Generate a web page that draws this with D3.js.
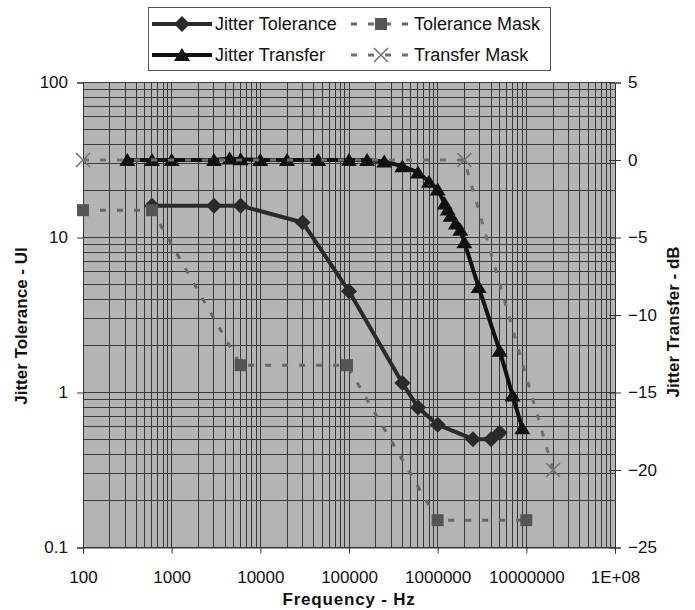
<!DOCTYPE html>
<html>
<head>
<meta charset="utf-8">
<script src="https://cdn.jsdelivr.net/npm/d3@7"></script>
<style>
body { margin: 0; background: #fff; }
svg text { font-family: "Liberation Sans", Arial, sans-serif; fill: #111; }
</style>
</head>
<body>
<svg width="695" height="610"></svg>
<script>
// measured jitter tolerance (UI) vs frequency
const tolFreq = [600, 3000, 6000, 30000, 100000, 400000, 600000, 1000000, 2500000, 4000000, 5000000];
const tolUI = [16, 16, 16, 12.5, 4.5, 1.15, 0.8, 0.62, 0.5, 0.5, 0.55];

// tolerance mask (UI)
const maskTolFreq = [100, 600, 6000, 95000, 1000000, 10000000];
const maskTolUI = [15, 15, 1.5, 1.5, 0.15, 0.15];

// measured jitter transfer (dB), right axis
const trFreq = [316, 600, 1000, 3000, 4500, 6000, 10000, 20000, 45000, 100000, 160000, 250000,
    400000, 600000, 800000, 1000000, 1200000, 1300000, 1400000, 1600000, 1800000, 2000000,
    2900000, 5000000, 7000000, 9000000];
const trDB = [0, 0, 0, 0, 0.1, 0.05, 0, 0, 0, 0, 0, -0.1,
    -0.4, -0.8, -1.4, -1.9, -2.8, -3.2, -3.6, -4.1, -4.5, -5.3,
    -8.2, -12.3, -15.2, -17.3];

// transfer mask (dB)
const maskTrFreq = [100, 2000000, 20000000];
const maskTrDB = [0, 0, -20];

const xTicks = [100, 1000, 10000, 100000, 1000000, 10000000, 100000000];
const yLeftTicks = [0.1, 1, 10, 100];
const yRightTicks = [-25, -20, -15, -10, -5, 0, 5];

var svg = d3.select("svg");

// plot box (window.top is reserved, so no bare "top" here)
var pL = 83, pR = 615, pT = 82.5, pB = 547.5;

var x = d3.scaleLog().domain([100, 1e8]).range([pL, pR]);
var yL = d3.scaleLog().domain([0.1, 100]).range([pB, pT]);
var yR = d3.scaleLinear().domain([-25, 5]).range([pB, pT]);

// plot background
svg.append("rect")
    .attr("x", pL).attr("y", pT)
    .attr("width", pR - pL).attr("height", pB - pT)
    .attr("fill", "#b4b4b4");

// log grid lines (1..9 per decade)
var logLines = function (lo, hi) {
    var out = [];
    for (var p = lo; p < hi; p++) {
        for (var m = 1; m < 10; m++) out.push(m * Math.pow(10, p));
    }
    out.push(Math.pow(10, hi));
    return out;
};

var grid = svg.append("g")
    .attr("stroke", "#3a3a3a")
    .attr("stroke-width", 1)
    .attr("shape-rendering", "crispEdges");

grid.selectAll("line.v")
    .data(logLines(2, 8))
    .enter().append("line")
    .attr("class", "v")
    .attr("x1", d => x(d)).attr("x2", d => x(d))
    .attr("y1", pT).attr("y2", pB);

grid.selectAll("line.h")
    .data(logLines(-1, 2))
    .enter().append("line")
    .attr("class", "h")
    .attr("y1", d => yL(d)).attr("y2", d => yL(d))
    .attr("x1", pL).attr("x2", pR);

// axes
svg.append("g")
    .attr("transform", "translate(0," + pB + ")")
    .call(d3.axisBottom(x)
        .tickValues(xTicks)
        .tickSizeOuter(0)
        .tickSize(6)
        .tickPadding(17)
        .tickFormat(d => d === 1e8 ? "1E+08" : d3.format("d")(d)));

svg.append("g")
    .attr("transform", "translate(" + pL + ",0)")
    .call(d3.axisLeft(yL)
        .tickValues(yLeftTicks)
        .tickSizeOuter(0)
        .tickSize(6)
        .tickPadding(9)
        .tickFormat(d3.format("~g")));

var yAxisR = svg.append("g")
    .attr("transform", "translate(" + pR + ",0)")
    .call(d3.axisRight(yR)
        .tickValues(yRightTicks)
        .tickSizeOuter(0)
        .tickSize(6)
        .tickPadding(7));
yAxisR.selectAll(".tick line").attr("x1", -6);

svg.selectAll(".domain").attr("stroke", "#333");
svg.selectAll(".tick line").attr("stroke", "#333");
svg.selectAll(".tick text")
    .style("font-size", "17px")
    .attr("fill", "#111");

// axis titles
svg.append("text")
    .attr("transform", "translate(27,326) rotate(-90)")
    .attr("text-anchor", "middle")
    .style("font-size", "17px")
    .style("font-weight", "bold")
    .text("Jitter Tolerance - UI");

svg.append("text")
    .attr("transform", "translate(679,322) rotate(-90)")
    .attr("text-anchor", "middle")
    .style("font-size", "17px")
    .style("font-weight", "bold")
    .text("Jitter Transfer - dB");

svg.append("text")
    .attr("x", 349).attr("y", 605)
    .attr("text-anchor", "middle")
    .style("font-size", "17px")
    .style("font-weight", "bold")
    .style("letter-spacing", "0.8px")
    .text("Frequency - Hz");

// marker shapes
var diamond = "M0,-8L8,0L0,8L-8,0Z";
var square = "M-6,-6L6,-6L6,6L-6,6Z";
var triangle = "M0,-7L8,6L-8,6Z";
var cross = "M-7,-7L7,7M-7,7L7,-7";

var series = [
    {name: "Jitter Tolerance", fx: tolFreq, fy: tolUI, y: yL, color: "#2a2a2a", dash: null,
        width: 4, marker: diamond, mfill: "#2a2a2a", mstroke: null},
    {name: "Tolerance Mask", fx: maskTolFreq, fy: maskTolUI, y: yL, color: "#666", dash: "6,11",
        width: 3, marker: square, mfill: "#555", mstroke: null},
    {name: "Jitter Transfer", fx: trFreq, fy: trDB, y: yR, color: "#111", dash: null,
        width: 4, marker: triangle, mfill: "#111", mstroke: null},
    {name: "Transfer Mask", fx: maskTrFreq, fy: maskTrDB, y: yR, color: "#707070", dash: "6,11",
        width: 3, marker: cross, mfill: "none", mstroke: "#707070"}
];

series.forEach(function (s) {
    var pts = s.fx.map((f, i) => [x(f), s.y(s.fy[i])]);
    var g = svg.append("g");
    g.append("path")
        .attr("d", d3.line()(pts))
        .attr("fill", "none")
        .attr("stroke", s.color)
        .attr("stroke-width", s.width)
        .attr("stroke-dasharray", s.dash)
        .attr("stroke-linejoin", "round");
    g.selectAll("path.m")
        .data(pts)
        .enter().append("path")
        .attr("class", "m")
        .attr("d", s.marker)
        .attr("transform", d => "translate(" + d[0] + "," + d[1] + ")")
        .attr("fill", s.mfill)
        .attr("stroke", s.mstroke)
        .attr("stroke-width", 1.5);
});

// legend
var legend = svg.append("g");
legend.append("rect")
    .attr("x", 148.5).attr("y", 7.5)
    .attr("width", 402).attr("height", 63)
    .attr("fill", "#fff")
    .attr("stroke", "#555")
    .attr("stroke-width", 1);

var legendPos = [[152, 24], [351, 24], [152, 55], [351, 55]];

series.forEach(function (s, i) {
    var p = legendPos[i];
    var item = legend.append("g").attr("transform", "translate(" + p[0] + "," + p[1] + ")");
    item.append("line")
        .attr("x1", 0).attr("x2", 60)
        .attr("stroke", s.color)
        .attr("stroke-width", s.width)
        .attr("stroke-dasharray", s.dash);
    item.append("path")
        .attr("d", s.marker)
        .attr("transform", "translate(30,0)")
        .attr("fill", s.mfill)
        .attr("stroke", s.mstroke)
        .attr("stroke-width", 1.5);
    item.append("text")
        .attr("x", 63).attr("y", 6)
        .style("font-size", "18px")
        .text(s.name);
});
</script>
</body>
</html>
